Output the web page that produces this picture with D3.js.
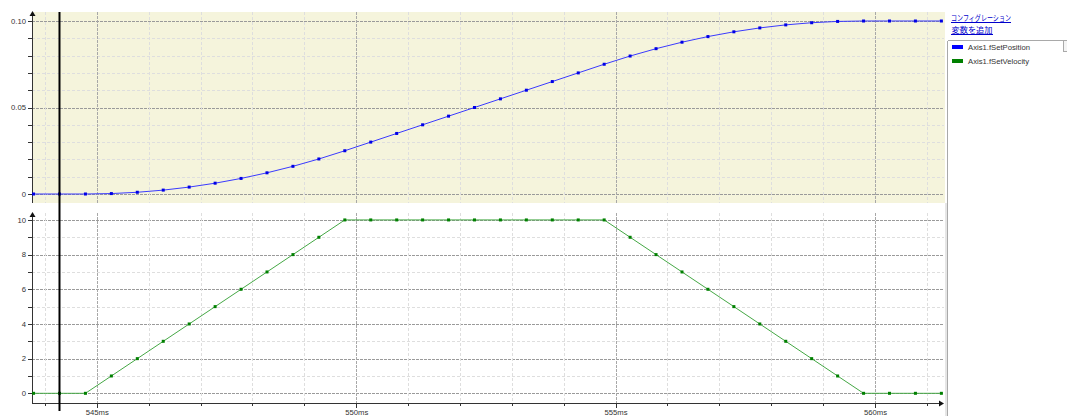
<!DOCTYPE html>
<html>
<head>
<meta charset="utf-8">
<script src="https://cdn.jsdelivr.net/npm/d3@7"></script>
<style>
  body { margin: 0; background: #fff; }
  svg { display: block; font-family: "Liberation Sans", Arial, sans-serif; }
</style>
</head>
<body>
<svg id="chart" width="1067" height="416"></svg>
<script>
// ---- data (ms, one sample every 0.5 ms) ----
const times = [543.78, 544.28, 544.78, 545.28, 545.78, 546.28, 546.78, 547.28, 547.78, 548.28,
  548.78, 549.28, 549.78, 550.28, 550.78, 551.28, 551.78, 552.28, 552.78, 553.28,
  553.78, 554.28, 554.78, 555.28, 555.78, 556.28, 556.78, 557.28, 557.78, 558.28,
  558.78, 559.28, 559.78, 560.28, 560.78, 561.28];
const setPosition = [0, 0, 0, 0.00025, 0.001, 0.00225, 0.004, 0.00625, 0.009, 0.01225,
  0.016, 0.02025, 0.025, 0.03, 0.035, 0.04, 0.045, 0.05, 0.055, 0.06,
  0.065, 0.07, 0.075, 0.07975, 0.084, 0.08775, 0.091, 0.09375, 0.096, 0.09775,
  0.099, 0.09975, 0.1, 0.1, 0.1, 0.1];
const setVelocity = [0, 0, 0, 1, 2, 3, 4, 5, 6, 7,
  8, 9, 10, 10, 10, 10, 10, 10, 10, 10,
  10, 10, 10, 9, 8, 7, 6, 5, 4, 3,
  2, 1, 0, 0, 0, 0];
const cursorTime = 544.28;
const xMajorTicks = [545, 550, 555, 560];
const xMajorLabels = ["545ms", "550ms", "555ms", "560ms"];
const xMinorTicks = [544, 546, 547, 548, 549, 551, 552, 553, 554, 556, 557, 558, 559, 561];
const posMajorTicks = [0, 0.05, 0.10];
const posMajorLabels = ["0", "0.05", "0.10"];
const posMinorTicks = [0.01, 0.02, 0.03, 0.04, 0.06, 0.07, 0.08, 0.09];
const velMajorTicks = [0, 2, 4, 6, 8, 10];
const velMajorLabels = ["0", "2", "4", "6", "8", "10"];
const velMinorTicks = [1, 3, 5, 7, 9];
const seriesNames = ["Axis1.fSetPosition", "Axis1.fSetVelocity"];
const seriesColors = ["#0000ff", "#008000"];
const linkTexts = ["コンフィグレーション", "変数を追加"];

// ---- layout ----
const svg = d3.select("#chart");
const X0 = 32, X1 = 945;
const topP = { y0: 12, y1: 203 };
const botP = { y0: 213, y1: 402.5 };
const x = d3.scaleLinear().domain([543.75, 561.35]).range([X0, X1]);
const yPos = d3.scaleLinear().domain([-0.0052, 0.1052]).range([topP.y1, topP.y0]);
const yVel = d3.scaleLinear().domain([-0.53, 10.4]).range([botP.y1, botP.y0]);
const px = v => Math.round(v) + 0.5;
const textColor = "#333";

// top panel background
svg.append("rect").attr("x", X0).attr("y", topP.y0).attr("width", X1 - X0).attr("height", topP.y1 - topP.y0)
  .attr("fill", "#f5f4dc");

function grid(y, yr, majors, minors) {
  const g = svg.append("g").attr("shape-rendering", "crispEdges");
  g.selectAll(".hmin").data(minors).enter().append("line")
    .attr("x1", X0).attr("x2", X1 - 1).attr("y1", d => px(y(d))).attr("y2", d => px(y(d)))
    .attr("stroke", "#dedede").attr("stroke-dasharray", "3,2");
  g.selectAll(".hmaj").data(majors).enter().append("line")
    .attr("x1", X0).attr("x2", X1 - 1).attr("y1", d => px(y(d))).attr("y2", d => px(y(d)))
    .attr("stroke", "#9a9a9a").attr("stroke-dasharray", "3,1");
  g.selectAll(".vmin").data(xMinorTicks).enter().append("line")
    .attr("x1", d => px(x(d))).attr("x2", d => px(x(d))).attr("y1", yr[0]).attr("y2", yr[1])
    .attr("stroke", "#dedede").attr("stroke-dasharray", "3,2");
  g.selectAll(".vmaj").data(xMajorTicks).enter().append("line")
    .attr("x1", d => px(x(d))).attr("x2", d => px(x(d))).attr("y1", yr[0]).attr("y2", yr[1])
    .attr("stroke", "#a8a8a8").attr("stroke-dasharray", "3,1");
}
grid(yPos, [topP.y0, topP.y1], posMajorTicks, posMinorTicks);
grid(yVel, [botP.y0, botP.y1], velMajorTicks, velMinorTicks);

function yAxis(y, yr, majors, labels, minors) {
  const g = svg.append("g");
  g.append("line").attr("x1", px(X0)).attr("x2", px(X0)).attr("y1", yr[0]).attr("y2", yr[1])
    .attr("stroke", "#333").attr("shape-rendering", "crispEdges");
  const all = majors.concat(minors);
  g.selectAll(".t").data(all).enter().append("line")
    .attr("x1", X0 - 4).attr("x2", X0).attr("y1", d => px(y(d))).attr("y2", d => px(y(d)))
    .attr("stroke", "#333").attr("shape-rendering", "crispEdges");
  g.selectAll(".l").data(majors).enter().append("text")
    .attr("x", X0 - 6).attr("y", d => y(d)).attr("dy", "0.35em")
    .attr("text-anchor", "end").attr("font-size", "7.7px").attr("fill", textColor)
    .text((d, i) => labels[i]);
  g.append("path").attr("d", `M${X0 + 0.5},${yr[0] - 1} l-3,5 h6 z`).attr("fill", "#111");
}
yAxis(yPos, [topP.y0, topP.y1], posMajorTicks, posMajorLabels, posMinorTicks);
yAxis(yVel, [botP.y0, botP.y1], velMajorTicks, velMajorLabels, velMinorTicks);

const xa = svg.append("g");
xa.append("line").attr("x1", X0).attr("x2", X1 - 3).attr("y1", px(botP.y1)).attr("y2", px(botP.y1))
  .attr("stroke", "#333").attr("shape-rendering", "crispEdges");
xa.append("path").attr("d", `M${X1 - 1},${px(botP.y1)} l-5,-3 v6 z`).attr("fill", "#111");
xa.selectAll(".mt").data(xMinorTicks).enter().append("line")
  .attr("x1", d => px(x(d))).attr("x2", d => px(x(d))).attr("y1", botP.y1).attr("y2", botP.y1 + 3.5)
  .attr("stroke", "#333").attr("shape-rendering", "crispEdges");
xa.selectAll(".Mt").data(xMajorTicks).enter().append("line")
  .attr("x1", d => px(x(d))).attr("x2", d => px(x(d))).attr("y1", botP.y1).attr("y2", botP.y1 + 5)
  .attr("stroke", "#333").attr("shape-rendering", "crispEdges");
xa.selectAll(".xl").data(xMajorTicks).enter().append("text")
  .attr("x", d => x(d) + 0.5).attr("y", 414.5).attr("text-anchor", "middle")
  .attr("font-size", "7.7px").attr("fill", textColor)
  .text((d, i) => xMajorLabels[i]);

function series(y, values, lineColor, markColor) {
  const pts = times.map((t, i) => [t, values[i]]);
  svg.append("path").datum(pts)
    .attr("d", d3.line().x(d => x(d[0])).y(d => y(d[1])))
    .attr("fill", "none").attr("stroke", lineColor).attr("stroke-width", 1);
  svg.append("g").selectAll("rect").data(pts).enter().append("rect")
    .attr("x", d => x(d[0]) - 1.5).attr("y", d => y(d[1]) - 1.5)
    .attr("width", 3).attr("height", 3).attr("fill", markColor);
}
series(yPos, setPosition, "#3a3aff", "#0000e6");
series(yVel, setVelocity, "#45a845", "#008000");

svg.append("line").attr("x1", x(cursorTime)).attr("x2", x(cursorTime)).attr("y1", 12).attr("y2", 411)
  .attr("stroke", "#000").attr("stroke-width", 2);

svg.append("rect").attr("x", 945).attr("y", 203).attr("width", 2.5).attr("height", 213).attr("fill", "#e6e6e6");
svg.append("line").attr("x1", 947.5).attr("x2", 947.5).attr("y1", 40.5).attr("y2", 416)
  .attr("stroke", "#a9a9a9").attr("shape-rendering", "crispEdges");
svg.append("line").attr("x1", 947.5).attr("x2", 1067).attr("y1", 40.5).attr("y2", 40.5)
  .attr("stroke", "#a9a9a9").attr("shape-rendering", "crispEdges");
svg.append("rect").attr("x", 1063.5).attr("y", 40.5).attr("width", 4).attr("height", 11)
  .attr("fill", "#f4f4f4").attr("stroke", "#a9a9a9").attr("shape-rendering", "crispEdges");

const links = svg.append("g").attr("font-family", "'Noto Sans CJK JP', sans-serif").attr("fill", "#0000cc");
links.append("text").attr("x", 951).attr("y", 21).attr("font-size", "8px")
  .attr("textLength", 60).attr("lengthAdjust", "spacingAndGlyphs").text(linkTexts[0]);
links.append("line").attr("x1", 951).attr("x2", 1011).attr("y1", 22.5).attr("y2", 22.5)
  .attr("stroke", "#0000cc").attr("shape-rendering", "crispEdges");
links.append("text").attr("x", 951.5).attr("y", 33).attr("font-size", "8px")
  .attr("textLength", 41).attr("lengthAdjust", "spacingAndGlyphs").text(linkTexts[1]);
links.append("line").attr("x1", 951).attr("x2", 993).attr("y1", 34.5).attr("y2", 34.5)
  .attr("stroke", "#0000cc").attr("shape-rendering", "crispEdges");

const lg = svg.append("g").selectAll("g").data(seriesNames).enter().append("g")
  .attr("transform", (d, i) => `translate(952,${47 + i * 14})`);
lg.append("rect").attr("x", 0).attr("y", -2).attr("width", 11).attr("height", 4)
  .attr("fill", (d, i) => seriesColors[i]);
lg.append("text").attr("x", 16).attr("y", 0).attr("dy", "0.35em").attr("font-size", "7.7px")
  .attr("fill", textColor).text(d => d);
</script>
</body>
</html>
